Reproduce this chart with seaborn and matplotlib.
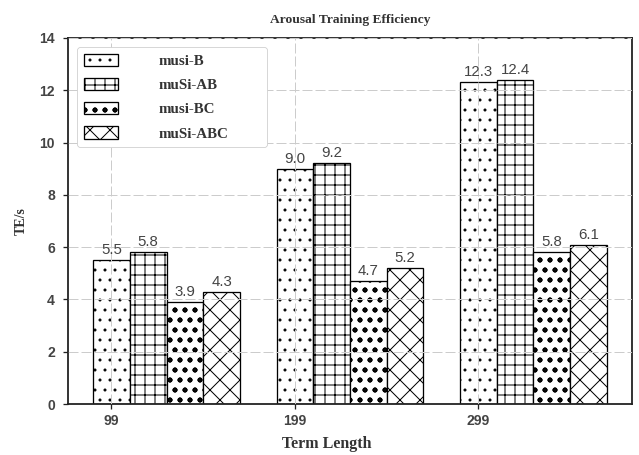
import pandas as pd
import seaborn as sns
import matplotlib.pyplot as plt

# =========================================================
# DATA
# =========================================================

terms = ["99", "199", "299"]
methods = ["musi-B", "muSi-AB", "musi-BC", "muSi-ABC"]

musi_b = [5.5, 9.0, 12.3]
musi_ab = [5.8, 9.2, 12.4]
musi_bc = [3.9, 4.7, 5.8]
musi_abc = [4.3, 5.2, 6.1]

hatches = [".", "+", ".o", "x"]

df = pd.DataFrame({
    "term": terms * 4,
    "te": musi_b + musi_ab + musi_bc + musi_abc,
    "method": [m for m in methods for _ in terms]
})

# =========================================================
# SETTINGS
# =========================================================

DPI = 60


def px(n):
    # pixel size -> points at this dpi
    return n * 72 / DPI


sns.set_theme(style="white")

plt.rcParams["hatch.linewidth"] = px(1.0)

serif = ["Liberation Serif", "DejaVu Serif"]
sans = ["Liberation Sans", "DejaVu Sans"]

fig = plt.figure(figsize=(639 / DPI, 455 / DPI), dpi=DPI)
ax = fig.add_axes([68 / 639, 1 - 404 / 455, (632 - 68) / 639, (404 - 38) / 455])

# =========================================================
# BARS
# =========================================================

sns.barplot(
    data=df,
    x="term",
    y="te",
    hue="method",
    hue_order=methods,
    palette=["white"] * 4,
    edgecolor="black",
    linewidth=px(1.3),
    width=0.8,
    legend=False,
    ax=ax
)

for cont, h in zip(ax.containers, hatches):
    for bar in cont:
        bar.set_hatch(h)
    ax.bar_label(
        cont,
        fmt="%.1f",
        padding=px(3),
        fontsize=px(15),
        color="#444444",
        family=sans
    )

# =========================================================
# AXES
# =========================================================

ax.set_ylim(0, 14)
ax.set_yticks(range(0, 15, 2))
ax.set_xticks([i - 0.3 for i in range(len(terms))])
ax.set_xticklabels(terms)
ax.set_xlim(-0.537, 2.537)

ax.grid(True, color="#cccccc", linestyle=(0, (10, 3)), linewidth=px(1))
ax.set_axisbelow(False)

for s in ax.spines.values():
    s.set_color("#222222")
    s.set_linewidth(px(1.8))

ax.tick_params(
    axis="both",
    direction="out",
    length=px(5),
    width=px(1.3),
    color="#222222",
    labelsize=px(14),
    labelcolor="#444444",
    bottom=True,
    left=True
)
ax.tick_params(axis="y", pad=px(8))
ax.tick_params(axis="x", pad=px(5))

for lab in ax.get_xticklabels() + ax.get_yticklabels():
    lab.set_family(sans)
    lab.set_fontweight("bold")

ax.set_xlabel("Term Length", fontsize=px(16), fontweight="bold",
              family=serif, color="#333333")
ax.xaxis.set_label_coords(0.459, -0.088)
ax.set_ylabel("TE/s", fontsize=px(14), fontweight="bold",
              family=serif, color="#333333")
ax.yaxis.set_label_coords(-0.071, 0.5)

ax.set_title("Arousal Training Efficiency", fontsize=px(13.5),
             fontweight="bold", family=serif, color="#333333", pad=px(15))

# =========================================================
# LEGEND
# =========================================================

leg = ax.legend(
    handles=ax.containers,
    labels=methods,
    loc="upper left",
    bbox_to_anchor=(9 / 564, 0, 190 / 564, 1 - 9 / 366),
    mode="expand",
    borderaxespad=0,
    prop={"family": serif, "weight": "bold", "size": px(15)},
    handlelength=2.3,
    handleheight=0.9,
    handletextpad=2.7,
    labelspacing=0.65,
    borderpad=0.45,
    frameon=True,
    fancybox=True,
    framealpha=1,
    edgecolor="#d0d0d0"
)

for t in leg.get_texts():
    t.set_color("#333333")

plt.savefig("out.png", dpi=DPI)
plt.close()
